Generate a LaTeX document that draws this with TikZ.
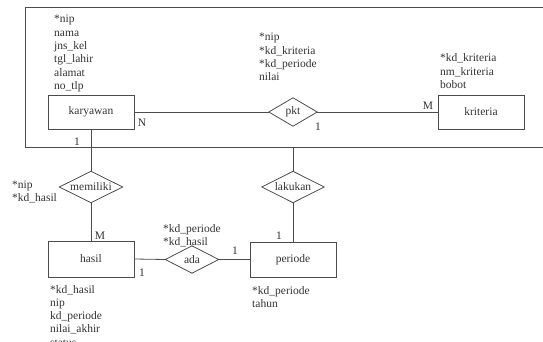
\documentclass[tikz,border=0pt]{standalone}
\usepackage{fontspec}
\setmainfont{Liberation Serif}
\begin{document}
\begin{tikzpicture}[x=1pt,y=-1pt,
  line/.style={draw=black!70,line width=0.8pt},
  entity/.style={line,rectangle,minimum width=86pt,inner sep=0pt,text=black!80},
  relbox/.style={rectangle,inner sep=0pt,text=black!80},
  attr/.style={anchor=base west,inner sep=0pt,align=left,text=black!80,font=\fontsize{11.5}{13.3}\selectfont},
  card/.style={inner sep=0pt,text=black!80,font=\fontsize{11.5}{13.3}\selectfont},
  every node/.style={font=\fontsize{11.5}{13.3}\selectfont}]
\useasboundingbox (0,0) rectangle (543,342);
% aggregation frame
\draw[line] (560,7) -- (25,7) -- (25,147) -- (560,147);
\coordinate (fb) at (293,147);
% entities
\node[entity,minimum height=34pt] (karyawan) at (91,112) {karyawan};
\node[entity,minimum height=34pt] (kriteria) at (481,112) {kriteria};
\node[entity,minimum height=36pt] (hasil) at (91,259) {hasil};
\node[entity,minimum height=35pt] (periode) at (293,259.5) {periode};
% relationships
\node[relbox,minimum width=48pt,minimum height=28pt] (pkt) at (293,112) {pkt};
\node[relbox,minimum width=63pt,minimum height=31pt] (memiliki) at (91,187) {memiliki};
\node[relbox,minimum width=62pt,minimum height=31pt] (lakukan) at (293,187) {lakukan};
\node[relbox,minimum width=53pt,minimum height=27pt] (ada) at (192,259.5) {ada};
\foreach \r in {pkt,memiliki,lakukan,ada}
  \draw[line] (\r.west) -- (\r.north) -- (\r.east) -- (\r.south) -- cycle;
% connectors
\draw[line] (karyawan.east) -- (pkt.west);
\draw[line] (pkt.east) -- (kriteria.west);
\draw[line] (karyawan.south) -- (memiliki.north);
\draw[line] (memiliki.south) -- (hasil.north);
\draw[line] (hasil.east) -- (ada.west);
\draw[line] (ada.east) -- (periode.west);
\draw[line] (fb) -- (lakukan.north);
\draw[line] (lakukan.south) -- (periode.north);
% cardinalities
\node[card] (c1) at (142,123) {N};
\node[card] (c2) at (318,127) {1};
\node[card] (c3) at (428,106) {M};
\node[card] (c4) at (77,142) {1};
\node[card] (c5) at (100,236) {M};
\node[card] (c6) at (142,273) {1};
\node[card] (c7) at (235,251) {1};
\node[card] (c8) at (279,236) {1};
% attributes (anchored at the baseline of the last line)
\node[attr] (a1) at (54,89.5) {*nip\\nama\\jns\_kel\\tgl\_lahir\\alamat\\no\_tlp};
\node[attr] (a2) at (259,80.9) {*nip\\*kd\_kriteria\\*kd\_periode\\nilai};
\node[attr] (a3) at (440,88.6) {*kd\_kriteria\\nm\_kriteria\\bobot};
\node[attr] (a4) at (12,201.3) {*nip\\*kd\_hasil};
\node[attr] (a5) at (163,245.3) {*kd\_periode\\*kd\_hasil};
\node[attr] (a6) at (50,346.2) {*kd\_hasil\\nip\\kd\_periode\\nilai\_akhir\\status};
\node[attr] (a7) at (252,307.3) {*kd\_periode\\tahun};
\end{tikzpicture}
\end{document}
